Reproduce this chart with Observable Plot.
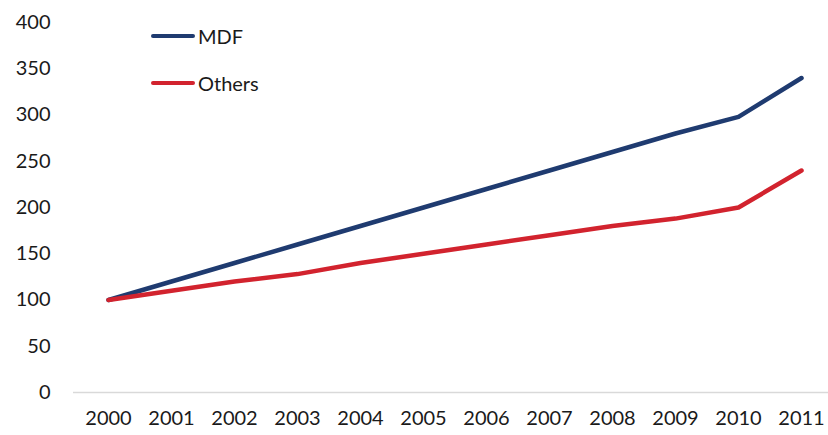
<!DOCTYPE html>
<html><head><meta charset="utf-8">
<script src="https://cdn.jsdelivr.net/npm/d3@7"></script>
<script src="https://cdn.jsdelivr.net/npm/@observablehq/plot@0.6"></script>
<style>
body{margin:0;background:#fff;}
#wrap{position:relative;width:828px;height:435px;font-family:"Century Gothic",Lato,"DejaVu Sans",sans-serif;}
.leg{position:absolute;display:flex;align-items:center;font-size:20px;color:#1a1a1a;}
.leg span.sw{display:inline-block;width:44px;height:4px;border-radius:2px;margin-right:3px;}
</style></head><body>
<div id="wrap"></div>
<script>
const years = ["2000","2001","2002","2003","2004","2005","2006","2007","2008","2009","2010","2011"];
const mdf = [100,120,140,160,180,200,220,240,260,280,298,340];
const others = [100,110,120,128,140,150,160,170,180,188,200,240];
const seriesNames = ["MDF","Others"];
const colors = ["#1f3b70","#d2232e"];
const yTicks = [0,50,100,150,200,250,300,350,400];

const data = [];
years.forEach((y,i)=>{
  data.push({year:y, value:mdf[i], series:"MDF"});
  data.push({year:y, value:others[i], series:"Others"});
});

const chart = Plot.plot({
  width:828, height:435,
  marginLeft:73, marginRight:0, marginTop:22, marginBottom:43,
  style:{fontFamily:'"Century Gothic",Lato,"DejaVu Sans",sans-serif', fontSize:"20px", color:"#1a1a1a", background:"#fff"},
  x:{type:"point", domain:years, range:[73,835], padding:0.5, label:null, tickSize:0, tickPadding:18},
  y:{domain:[0,400], ticks:yTicks, label:null, tickSize:0, tickPadding:23},
  color:{domain:seriesNames, range:colors},
  marks:[
    Plot.ruleY([0],{stroke:"#d9d9d9", strokeWidth:1.5}),
    Plot.lineY(data,{x:"year", y:"value", z:"series", stroke:"series", strokeWidth:4.5, strokeLinejoin:"round", strokeLinecap:"round"})
  ]
});
const wrap = document.getElementById("wrap");
wrap.appendChild(chart);
seriesNames.forEach((n,i)=>{
  const d = document.createElement("div");
  d.className="leg";
  d.style.left="151px";
  d.style.top=(24+i*47)+"px";
  d.innerHTML=`<span class="sw" style="background:${colors[i]}"></span><span>${n}</span>`;
  wrap.appendChild(d);
});
</script>
</body></html>
